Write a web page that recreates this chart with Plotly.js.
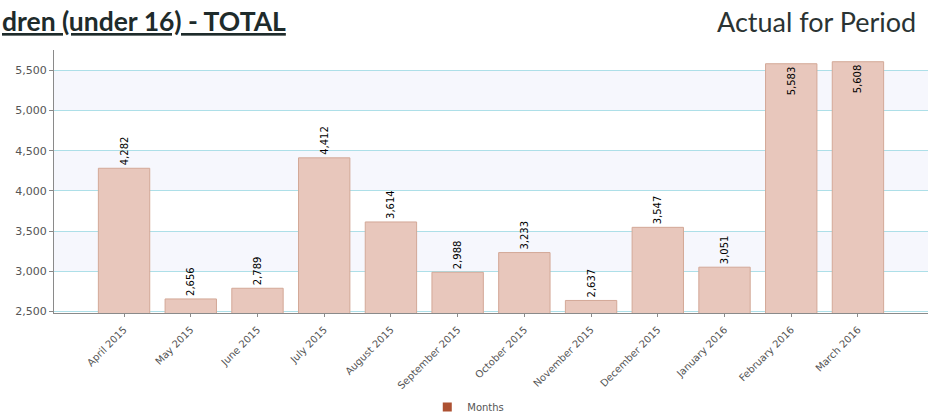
<!DOCTYPE html>
<html>
<head>
<meta charset="utf-8">
<script src="https://cdn.plot.ly/plotly-3.0.1.min.js"></script>
<style>
  html, body { margin: 0; padding: 0; background: #ffffff; }
  #chart { width: 936px; height: 417px; }
</style>
</head>
<body>
<div id="chart"></div>
<script>
// Monthly totals, April 2015 – March 2016
const months = [
  "April 2015", "May 2015", "June 2015", "July 2015", "August 2015",
  "September 2015", "October 2015", "November 2015", "December 2015",
  "January 2016", "February 2016", "March 2016"
];
const totals = [4282, 2656, 2789, 4412, 3614, 2988, 3233, 2637, 3547, 3051, 5583, 5608];
const yTicks = [2500, 3000, 3500, 4000, 4500, 5000, 5500];
const yTickLabels = ["2,500", "3,000", "3,500", "4,000", "4,500", "5,000", "5,500"];
const bandRanges = [[3000, 3500], [4000, 4500], [5000, 5500]];

const yMin = 2481, yMax = 5754;

// Labels of bars that reach the top go inside the bar
const labelPos = totals.map(v => (v > 5400 ? "inside" : "outside"));
const labelText = totals.map(v => v.toLocaleString("en-US"));

const bars = {
  type: "bar",
  x: months,
  y: totals,
  base: 0,
  width: 0.77,
  text: labelText,
  textposition: labelPos,
  insidetextanchor: "end",
  textangle: -90,
  constraintext: "none",
  cliponaxis: false,
  textfont: { family: "DejaVu Sans", size: 10, color: "#000000" },
  marker: {
    color: "#e8c7bc",
    line: { color: "#d3a897", width: 1 }
  },
  hoverinfo: "x+y",
  showlegend: false
};

// Legend entry
const legendKey = {
  type: "scatter",
  mode: "markers",
  x: [months[0]],
  y: [null],
  name: "Months",
  marker: { symbol: "square", size: 9, color: "#ad5132" },
  showlegend: true,
  hoverinfo: "skip"
};

const bands = bandRanges.map(r => ({
  type: "rect",
  xref: "paper", yref: "y",
  x0: 0, x1: 1, y0: r[0], y1: r[1],
  fillcolor: "#f6f7fd",
  line: { width: 0 },
  layer: "below"
}));

const layout = {
  width: 936,
  height: 417,
  margin: { l: 54, r: 8, t: 50, b: 103.5, autoexpand: false },
  paper_bgcolor: "#ffffff",
  plot_bgcolor: "rgba(0,0,0,0)",
  font: { family: "DejaVu Sans", size: 11, color: "#555555" },
  xaxis: {
    type: "category",
    range: [-1.05, 12.05],
    tickangle: -45,
    tickfont: { family: "DejaVu Sans", size: 10, color: "#555555" },
    ticklabelstandoff: 3,
    showline: true,
    linecolor: "#8a8a8a",
    linewidth: 1,
    ticks: "outside",
    ticklen: 3,
    tickcolor: "#8a8a8a",
    showgrid: false,
    zeroline: false,
    automargin: false,
    fixedrange: true
  },
  yaxis: {
    range: [yMin, yMax],
    tickvals: yTicks,
    ticktext: yTickLabels,
    tickfont: { family: "DejaVu Sans", size: 11, color: "#555555" },
    showline: true,
    linecolor: "#8a8a8a",
    linewidth: 1,
    ticks: "outside",
    ticklen: 4,
    tickcolor: "#8a8a8a",
    showgrid: true,
    gridcolor: "#addfe8",
    gridwidth: 1,
    zeroline: false,
    automargin: false,
    fixedrange: true
  },
  shapes: bands,
  showlegend: true,
  legend: {
    orientation: "h",
    xref: "paper", x: 0.474, xanchor: "center",
    yref: "container", y: 10 / 417, yanchor: "middle",
    font: { family: "DejaVu Sans", size: 10, color: "#555555" },
    itemwidth: 30
  },
  annotations: [
    {
      xref: "paper", yref: "paper",
      x: -54 / 874, y: 1 + 29 / 263.5,
      xanchor: "left", yanchor: "middle",
      showarrow: false,
      text: "<b>dren (under 16) - TOTAL</b>",
      font: { family: "Lato", size: 26.5, color: "#1e2b2b", lineposition: "under" }
    },
    {
      xref: "paper", yref: "paper",
      x: (918 - 54) / 874, y: 1 + 29 / 263.5,
      xanchor: "right", yanchor: "middle",
      showarrow: false,
      text: "Actual for Period",
      font: { family: "Lato", size: 27, color: "#2a3333" }
    }
  ]
};

Plotly.newPlot("chart", [bars, legendKey], layout, { displayModeBar: false, staticPlot: true });
</script>
</body>
</html>
